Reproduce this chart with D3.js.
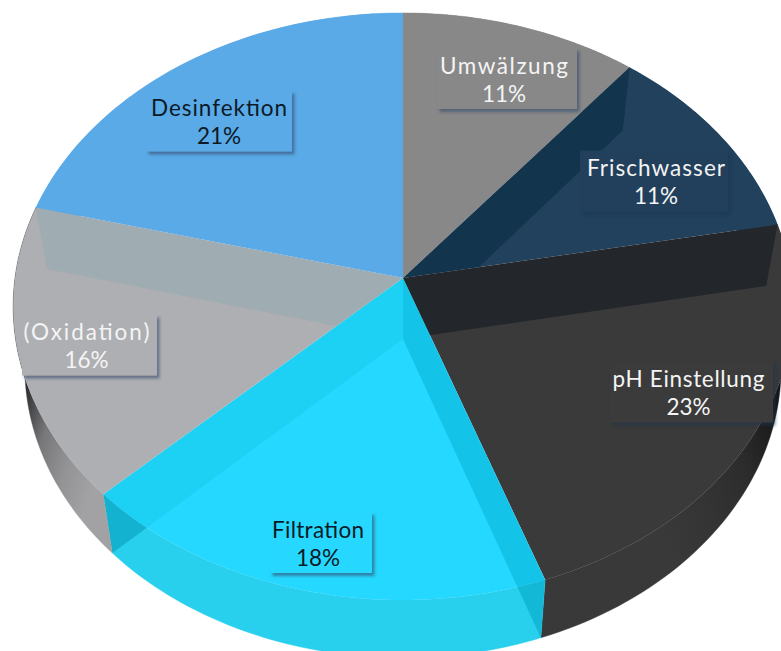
<!DOCTYPE html>
<html><head><meta charset="utf-8">
<script src="https://cdn.jsdelivr.net/npm/d3@7"></script>
<style>html,body{margin:0;padding:0;background:#fff;overflow:hidden}svg{display:block}text{font-family:Lato,"Open Sans",sans-serif}</style>
</head><body><svg id="c" width="781" height="651"></svg>
<script>
const categories = ["Umwälzung","Frischwasser","pH Einstellung","Filtration","(Oxidation)","Desinfektion"];
const shares = [10.8, 11.2, 22.6, 18.2, 16.2, 21];
const percentLabels = ["11%","11%","23%","18%","16%","21%"];
const topColors = ["#888888","#21415c","#3a3a3a","#25d8ff","#aeafb3","#5aaae8"];
const sideColors = ["#888888","#21415c","url(#gDark)","#28d0ee","url(#gGray)","#5aaae8"];
const textColors = ["#f4f4f4","#f4f4f4","#f4f4f4","#0b1a26","#f4f4f4","#0b1a26"];
const shadowIds = ["sh","shFaint","shFaint","sh","sh","sh"];
const boxCentres = [[507,78.5],[654,181],[691.5,392],[321,542.5],[89.5,345],[219,121]];
const boxWidths = [140,148,163,102,135,146];
const textWidths = [128,138,152,92,126,136];
const textShift = [-3,2,-3,-3,-3,0];
// wall of a slice boundary seen through the neighbouring slice
const wallSlice = [1,2,3,3,4];
const wallEdge = [1,2,3,4,5];
const wallColor = ["#0a2a42","#101820","#01b0d1","#00bacd","#8fa8b0"];
const wallOpacity = [.55,.55,.5,.2,.45];
const wallSideColor = ["#0a2a42","#101820","#00a0c0","#0094b4","#8fa8b0"];
const wallSideOpacity = [.55,.55,.5,.5,.45];

const W = 781, H = 651, cx = 403, cy = 278;
const A = 388, B = 290.8, k = .097;
const project = t => { const u = Math.sin(t), v = Math.cos(t), d = 1 + k*v; return [cx + A*u/d, cy - B*v/d]; };
const lower = p => [cx + .97*(p[0]-cx), cy + .99*(p[1]-cy) + 61];
const pie = d3.pie().sort(null).value(d => d);
const arcs = pie(shares);
const svg = d3.select("#c");
const defs = svg.append("defs");

function grad(id, stops){
  const g = defs.append("linearGradient").attr("id",id).attr("gradientUnits","userSpaceOnUse");
  g.attr("x1",stops.x1).attr("y1",stops.y1).attr("x2",stops.x2).attr("y2",stops.y2);
  stops.c.forEach((c,i)=>g.append("stop").attr("offset",i/(stops.c.length-1)).attr("stop-color",c));
}
grad("gDark",{x1:780,y1:420,x2:640,y2:470,c:["#181818","#2c2c2c","#343434","#393939"]});
grad("gGray",{x1:22,y1:400,x2:112,y2:430,c:["#2e2e30","#77777a","#939396","#a2a2a5"]});

function shadow(id, color, op){
  const f = defs.append("filter").attr("id",id).attr("x","-10%").attr("y","-15%").attr("width","125%").attr("height","140%");
  f.append("feDropShadow").attr("dx",2.5).attr("dy",3).attr("stdDeviation",1.6).attr("flood-color",color).attr("flood-opacity",op);
}
shadow("sh","#33486a",.6);
shadow("shFaint","#16304f",.5);

const rim = (a0,a1) => d3.range(0,61).map(i => project(a0+(a1-a0)*i/60));
const line = d3.line();
const topPts = a => [[cx,cy],...rim(a.startAngle,a.endAngle)];
const sidePts = a => { const r = rim(a.startAngle,a.endAngle); return [...r,...r.slice().reverse().map(lower)]; };

// side walls first
svg.append("g").selectAll("path").data(arcs).join("path")
  .attr("d",a=>line(sidePts(a))+"Z").attr("fill",(a,i)=>sideColors[i]).attr("stroke",(a,i)=>sideColors[i]).attr("stroke-width",.4);
// top faces
svg.append("g").selectAll("path").data(arcs).join("path")
  .attr("d",a=>line(topPts(a))+"Z").attr("fill",(a,i)=>topColors[i]);

// clip regions per slice, top and side separately
arcs.forEach((a,i)=>{
  defs.append("clipPath").attr("id","clipT"+i).append("path").attr("d",line(topPts(a))+"Z");
  defs.append("clipPath").attr("id","clipS"+i).append("path").attr("d",line(sidePts(a))+"Z");
});
// translucent inner walls
const edgeAngles = arcs.map(a=>a.startAngle).concat([arcs[arcs.length-1].endAngle]);
const wallPath = e => { const p = project(edgeAngles[e]); return line([[cx,cy],p,lower(p),lower([cx,cy])])+"Z"; };
svg.append("g").selectAll("path").data(wallEdge).join("path")
  .attr("clip-path",(e,i)=>`url(#clipS${wallSlice[i]})`).attr("d",wallPath)
  .attr("fill",(e,i)=>wallSideColor[i]).attr("fill-opacity",(e,i)=>wallSideOpacity[i]);
svg.append("g").selectAll("path").data(wallEdge).join("path")
  .attr("clip-path",(e,i)=>`url(#clipT${wallSlice[i]})`).attr("d",wallPath)
  .attr("fill",(e,i)=>wallColor[i]).attr("fill-opacity",(e,i)=>wallOpacity[i]);

// labels
const lab = svg.append("g").selectAll("g").data(categories).join("g");
lab.append("rect")
  .attr("x",(d,i)=>boxCentres[i][0]-boxWidths[i]/2).attr("y",(d,i)=>boxCentres[i][1]-30.5)
  .attr("width",(d,i)=>boxWidths[i]).attr("height",61)
  .attr("fill",(d,i)=>topColors[i]).attr("filter",(d,i)=>`url(#${shadowIds[i]})`);
lab.append("text").attr("text-anchor","middle")
  .attr("x",(d,i)=>boxCentres[i][0]+textShift[i]).attr("y",(d,i)=>boxCentres[i][1]-5)
  .attr("textLength",(d,i)=>textWidths[i]).attr("lengthAdjust","spacing")
  .attr("font-size",22.5).attr("fill",(d,i)=>textColors[i]).text(d=>d);
lab.append("text").attr("text-anchor","middle")
  .attr("x",(d,i)=>boxCentres[i][0]+textShift[i]).attr("y",(d,i)=>boxCentres[i][1]+23)
  .attr("font-size",22.5).attr("fill",(d,i)=>textColors[i]).text((d,i)=>percentLabels[i]);
</script></body></html>
